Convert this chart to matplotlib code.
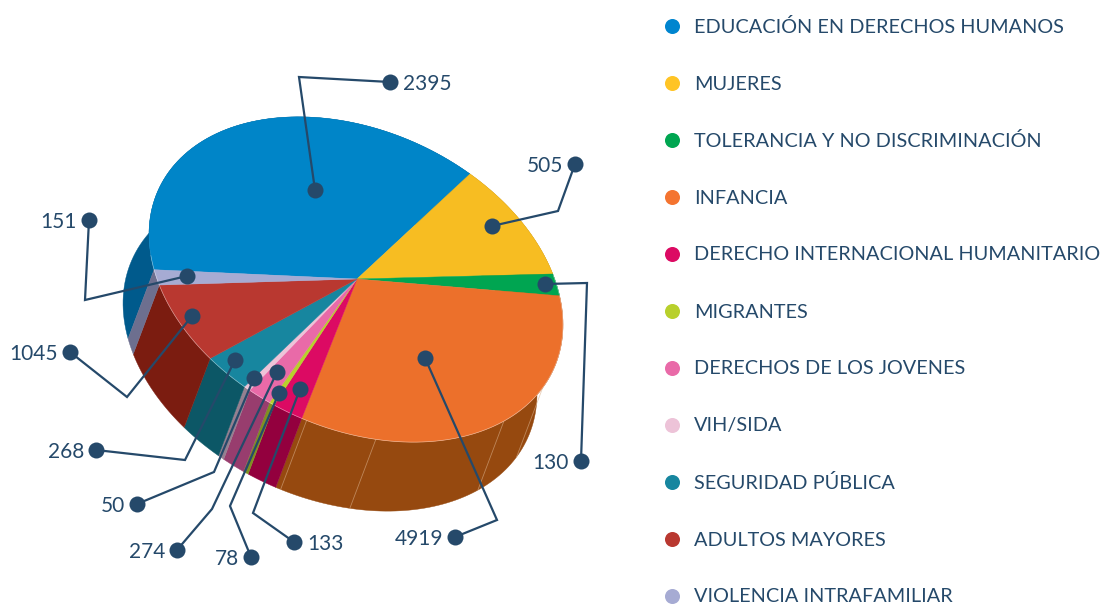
import numpy as np
import matplotlib
matplotlib.use("Agg")
import matplotlib.pyplot as plt
from matplotlib.patches import Polygon
from matplotlib.transforms import Affine2D

categories = ["EDUCACIÓN EN DERECHOS HUMANOS", "MUJERES", "TOLERANCIA Y NO DISCRIMINACIÓN",
              "INFANCIA", "DERECHO INTERNACIONAL HUMANITARIO", "MIGRANTES",
              "DERECHOS DE LOS JOVENES", "VIH/SIDA", "SEGURIDAD PÚBLICA",
              "ADULTOS MAYORES", "VIOLENCIA INTRAFAMILIAR"]
# printed values
values = [2395, 505, 130, 4919, 133, 78, 274, 50, 268, 1045, 151]
# the drawn slice sizes (degrees), which differ from the printed values in the picture
slice_sizes = [136.1, 38.5, 7.7, 115.6, 8.1, 1.4, 6.2, 1.7, 12.2, 27.1, 5.4]
top_colors = ["#0085c8", "#f7bd22", "#00a551", "#ec702b", "#dc0a63", "#b8d02c",
              "#e96aa8", "#edc3d8", "#17869f", "#b93830", "#a6abd3"]
side_colors = ["#005a8c", "#b08010", "#007038", "#96490f", "#93003e", "#7f9020",
               "#983d6e", "#948090", "#0c5766", "#7b1c10", "#6d6f8f"]
legend_colors = ["#0085cf", "#ffc425", "#00a651", "#f47430", "#dc0a63", "#b8d02c",
                 "#e96aa8", "#edc3d8", "#17869f", "#b93830", "#a6abd3"]
INK = "#25496a"
plt.rcParams["font.family"] = ["Lato", "DejaVu Sans"]

fig = plt.figure(figsize=(11.05, 6.04), dpi=100)
ax = fig.add_axes([0, 0, 1, 1])
ax.set_xlim(0, 1105)
ax.set_ylim(604, 0)
ax.axis("off")

# tilted ellipse of the pie's top face; the slices meet slightly off its centre
geom = Affine2D().scale(217, 149).rotate_deg(-24.4).scale(1, -1).translate(356, 279.5)
APEX = np.array([[357.0, 279.0]])
DEPTH = np.array([-26, 69])
START = 210.0


def rim(deg):
    d = np.radians(deg)
    return geom.transform(np.column_stack([np.cos(d), np.sin(d)]))


edges = START - np.concatenate([[0], np.cumsum(slice_sizes)])
for t1, t2, top, side in zip(edges[:-1], edges[1:], top_colors, side_colors):
    pts = rim(np.linspace(t1, t2, 80))
    ax.add_patch(Polygon(np.vstack([pts, (pts + DEPTH)[::-1]]), closed=True,
                         facecolor=side, edgecolor=side, linewidth=0.3, zorder=2))
    ax.add_patch(Polygon(np.vstack([APEX, pts]), closed=True,
                         facecolor=top, edgecolor=top, linewidth=0.3, zorder=3))

# faint seams on the side wall
for deg in [273.5, 292.8, 332.9, 351.7]:
    p = rim(np.array([deg]))[0]
    q = p + DEPTH
    ax.plot([p[0], q[0]], [p[1], q[1]], color="#d9b08c", lw=0.6, alpha=0.6, zorder=2.5)
# light rim on the front edge
front = rim(np.linspace(205, 395, 200))
ax.plot(front[:, 0], front[:, 1], color="#ffffff", lw=0.5, alpha=0.45, zorder=3.5)

# leader paths: inner dot, elbow, outer dot
leaders = [
    [(315, 190), (299, 77), (390, 82)],
    [(492, 226), (558, 211), (575, 164)],
    [(545, 284), (587, 283), (581, 461)],
    [(425, 358), (497, 520), (455, 537)],
    [(300, 389), (253, 513), (294, 542)],
    [(279, 393), (230, 506), (251, 557)],
    [(277, 372), (212, 509), (177, 550)],
    [(254, 378), (214, 472), (137, 504)],
    [(235, 360), (185, 460), (96, 450)],
    [(192, 316), (127, 397), (70, 352)],
    [(187, 276), (85, 300), (89, 220)],
]
label_sides = ["right", "left", "left", "left", "right", "left", "left", "left", "left", "left", "left"]
for path, v, side in zip(leaders, values, label_sides):
    xs, ys = zip(*path)
    ax.plot(xs, ys, color=INK, lw=1.6, zorder=5, solid_joinstyle="miter")
    ax.scatter([xs[0], xs[-1]], [ys[0], ys[-1]], s=133, color=INK, linewidths=0, zorder=6)
    if side == "right":
        ax.text(xs[-1] + 13, ys[-1] + 2.5, str(v), ha="left", va="center", fontsize=15, color=INK, zorder=7)
    else:
        ax.text(xs[-1] - 12, ys[-1] + 2, str(v), ha="right", va="center", fontsize=15, color=INK, zorder=7)

# legend
for i, (name, c) in enumerate(zip(categories, legend_colors)):
    y = 26 + 57 * i
    ax.scatter([672], [y], s=117, color=c, linewidths=0, zorder=6, clip_on=False)
    ax.text(694, y + 1, name, ha="left", va="center", fontsize=14.35, color=INK)

fig.savefig("out.png", dpi=100)
